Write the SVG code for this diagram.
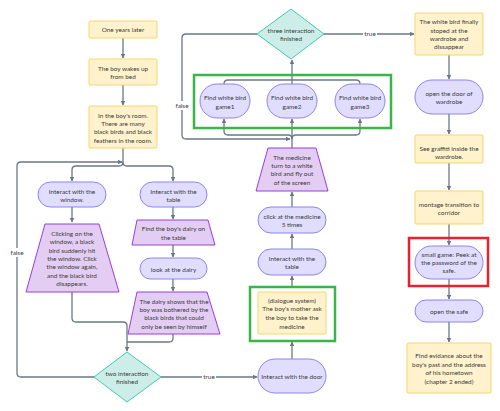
<svg xmlns="http://www.w3.org/2000/svg" width="500" height="411" viewBox="0 0 500 411">
<defs>
<marker id="ah" viewBox="0 0 8 8" refX="7" refY="4" markerWidth="4.5" markerHeight="4.5" orient="auto" markerUnits="userSpaceOnUse">
<path d="M0,0 L8,4 L0,8 z" fill="#6b7785"/>
</marker>
<style>
text{font-family:"Lato","Noto Sans",sans-serif;font-size:6.4px;fill:#3a3a3a;text-anchor:middle;dominant-baseline:central}
.y{fill:#fff2cc;stroke:#f5d76e;stroke-width:1}
.p{fill:#e0ddff;stroke:#8c84f2;stroke-width:1}
.t{fill:#e3cdf2;stroke:#9b3fd6;stroke-width:1}
.d{fill:#cdeee8;stroke:#40c9b0;stroke-width:1}
.c path{fill:none;stroke:#6b7785;stroke-width:1.3}
.a{marker-end:url(#ah)}
.lbl{fill:#ffffff;stroke:none}
.hg{fill:none;stroke:#3bb54a;stroke-width:2.5}
.hr{fill:none;stroke:#e8212e;stroke-width:2.5}
</style>
</defs>
<rect width="500" height="411" fill="#ffffff"/>

<g class="c" id="connectors">
<path class="a" d="M123,38 V58"/>
<path class="a" d="M123,85 V105"/>
<path d="M123,148 V162"/>
<path class="a" d="M123,162 Q123,166 119,166 H76 Q72,166 72,170 V181"/>
<path class="a" d="M123,162 Q123,166 127,166 H169 Q173,166 173,170 V181"/>
<path class="a" d="M94,377 H21 Q17,377 17,373 V166 Q17,162 21,162 H122"/>
<path class="a" d="M72,207 V222"/>
<path class="a" d="M72,292 V318 Q72,322 76,322 H123 Q127,322 127,326 V351"/>
<path class="a" d="M173,207 V219"/>
<path class="a" d="M173,245 V257"/>
<path class="a" d="M173,279 V291"/>
<path d="M173,334 V338 Q173,342 169,342 H127"/>
<path class="a" d="M161,377 H257"/>
<path class="a" d="M292,359 V342"/>
<path class="a" d="M292,287 V276"/>
<path class="a" d="M292,249 V234"/>
<path class="a" d="M292,207 V192"/>
<path d="M292,148 V139"/>
<path class="a" d="M292,139 Q292,135 288,135 H228 Q224,135 224,131 V119"/>
<path class="a" d="M292,139 Q292,135 296,135 H356 Q360,135 360,131 V119"/>
<path class="a" d="M292,139 V119"/>
<path class="a" d="M257,34 H186 Q182,34 182,38 V135 Q182,139 186,139 H290"/>
<path d="M224,84 Q224,80 228,80 H356 Q360,80 360,84"/>
<path d="M292,84 V80"/>
<path class="a" d="M292,80 V60"/>
<path class="a" d="M324,34 H414"/>
<path class="a" d="M449,55 V79"/>
<path class="a" d="M449,114 V134"/>
<path class="a" d="M449,163 V190"/>
<path class="a" d="M449,224 V245"/>
<path class="a" d="M449,279 V299"/>
<path class="a" d="M449,322 V342"/>
<rect class="lbl" x="10" y="248" width="14" height="9"/>
<text x="17" y="252.5">false</text>
<rect class="lbl" x="202" y="372" width="14" height="9"/>
<text x="209" y="376.5">true</text>
<rect class="lbl" x="175" y="101" width="14" height="9"/>
<text x="182" y="105.5">false</text>
<rect class="lbl" x="363" y="29" width="14" height="9"/>
<text x="370" y="33.5">true</text>
</g>

<g id="n1"><rect class="y" x="89" y="21" width="68" height="17" rx="1"/><text x="123" y="29.5">One years later</text></g>
<g id="n2"><rect class="y" x="89" y="59" width="68" height="26" rx="1"/><text x="123" y="68">The boy wakes up</text><text x="123" y="76.5">from bed</text></g>
<g id="n3"><rect class="y" x="89" y="106" width="68" height="42" rx="1"/><text x="123" y="115">In the boy's room.</text><text x="123" y="123.3">There are many</text><text x="123" y="131.6">black birds and black</text><text x="123" y="140">feathers in the room.</text></g>

<g id="n4"><rect class="p" x="38" y="182" width="68" height="25" rx="12.5"/><text x="72" y="191">Interact with the</text><text x="72" y="199">window.</text></g>
<g id="n5"><polygon class="t" points="45,224 99,224 119,292 26,292"/><text x="72" y="233">Clicking on the</text><text x="72" y="241.5">window, a black</text><text x="72" y="250">bird suddenly hit</text><text x="72" y="258.4">the window. Click</text><text x="72" y="266.8">the window again,</text><text x="72" y="275.2">and the black bird</text><text x="72" y="283.6">disappears.</text></g>

<g id="n6"><rect class="p" x="140" y="182" width="67" height="25" rx="12.5"/><text x="173.5" y="191">Interact with the</text><text x="173.5" y="199">table</text></g>
<g id="n7"><polygon class="t" points="137,220 208,220 215,245 132,245"/><text x="173.5" y="228.7">Find the boy's dairy on</text><text x="173.5" y="237">the table</text></g>
<g id="n8"><rect class="p" x="140" y="258" width="67" height="21" rx="10.5"/><text x="173.5" y="269">look at the dairy</text></g>
<g id="n9"><polygon class="t" points="137,292 207,292 220,334 128,334"/><text x="174" y="301">The dairy shows that the</text><text x="174" y="309.3">boy was bothered by the</text><text x="174" y="317.6">black birds that could</text><text x="174" y="326">only be seen by himself</text></g>

<g id="n10"><polygon class="d" points="127,352 161,377 127,402 94,377"/><text x="127" y="373">two interaction</text><text x="127" y="381.3">finished</text></g>

<g id="n11"><rect class="p" x="258" y="359" width="68" height="34" rx="17"/><text x="292" y="376">Interact with the door</text></g>
<g id="n12"><rect class="y" x="258" y="292" width="68" height="42" rx="1"/><text x="292" y="300.3">(dialogue system)</text><text x="292" y="308.8">The boy's mother ask</text><text x="292" y="317.5">the boy to take the</text><text x="292" y="326">medicine</text></g>
<rect class="hg" x="250" y="287" width="85" height="54"/>
<g id="n13"><rect class="p" x="258" y="249" width="68" height="26" rx="13"/><text x="292" y="258.3">Interact with the</text><text x="292" y="266.7">table</text></g>
<g id="n14"><rect class="p" x="258" y="207" width="68" height="26" rx="13"/><text x="292" y="216">click at the medicine</text><text x="292" y="224.4">5 times</text></g>
<g id="n15"><polygon class="t" points="268,148 316,148 328,191 256,191"/><text x="292" y="157">The medicine</text><text x="292" y="165.4">turn to a white</text><text x="292" y="173.8">bird and fly out</text><text x="292" y="182.2">of the screen</text></g>

<g id="n16"><rect class="p" x="200" y="84" width="50" height="34" rx="17"/><text x="225" y="97.8">Find white bird</text><text x="225" y="106.2">game1</text></g>
<g id="n17"><rect class="p" x="267" y="84" width="50" height="34" rx="17"/><text x="292" y="97.8">Find white bird</text><text x="292" y="106.2">game2</text></g>
<g id="n18"><rect class="p" x="335" y="84" width="50" height="34" rx="17"/><text x="360" y="97.8">Find white bird</text><text x="360" y="106.2">game3</text></g>
<rect class="hg" x="194" y="75" width="197" height="53"/>

<g id="n19"><polygon class="d" points="291,9 324,34 291,59 257,34"/><text x="291" y="30">three interaction</text><text x="291" y="38.3">finished</text></g>

<g id="n20"><rect class="y" x="415" y="13" width="68" height="42" rx="1"/><text x="449" y="21.7">The white bird finally</text><text x="449" y="30">stoped at the</text><text x="449" y="38.4">wardrobe and</text><text x="449" y="46.8">dissappear</text></g>
<g id="n21"><rect class="p" x="415" y="80" width="68" height="34" rx="17"/><text x="449" y="93.3">open the door of</text><text x="449" y="101.7">wardrobe</text></g>
<g id="n22"><rect class="y" x="415" y="135" width="68" height="28" rx="1"/><text x="449" y="148.3">See graffiti inside the</text><text x="449" y="156.7">wardrobe.</text></g>
<g id="n23"><rect class="y" x="415" y="191" width="68" height="33" rx="1"/><text x="449" y="204">montage transition to</text><text x="449" y="212.4">corridor</text></g>
<g id="n24"><rect class="p" x="415" y="246" width="68" height="33" rx="16.5"/><text x="449" y="254">small game: Peek at</text><text x="449" y="262.4">the password of the</text><text x="449" y="270.8">safe.</text></g>
<rect class="hr" x="409" y="238" width="79" height="48"/>
<g id="n25"><rect class="p" x="415" y="300" width="68" height="22" rx="11"/><text x="449" y="311">open the safe</text></g>
<g id="n26"><rect class="y" x="407" y="343" width="84" height="50" rx="1"/><text x="449" y="355.7">Find evidance about the</text><text x="449" y="364.2">boy's past and the address</text><text x="449" y="372.6">of his hometown</text><text x="449" y="381">(chapter 2 ended)</text></g>
</svg>
